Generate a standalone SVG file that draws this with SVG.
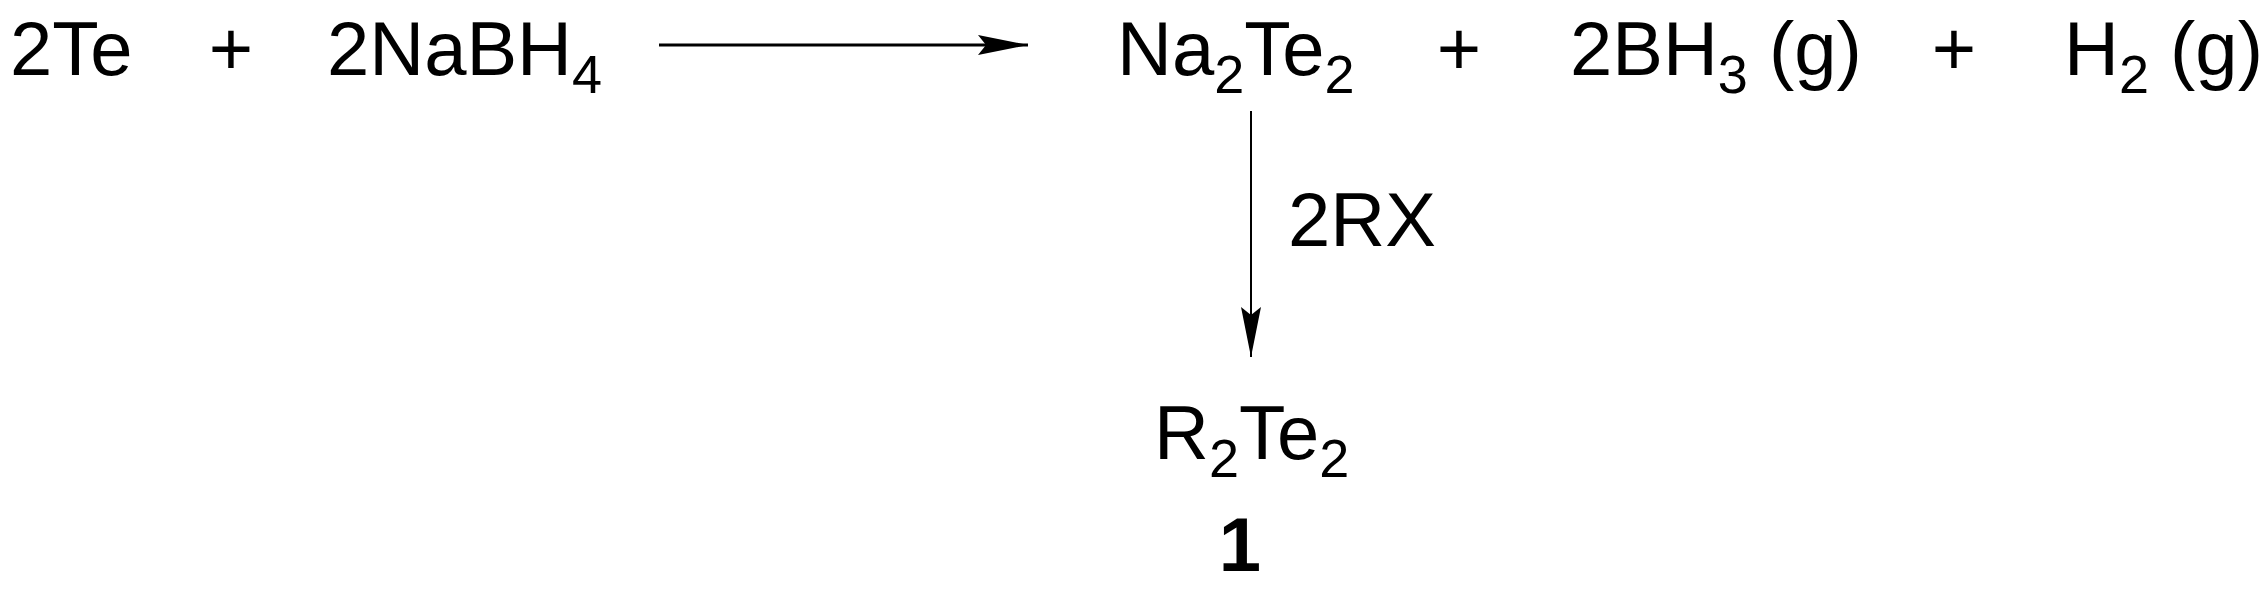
<svg xmlns="http://www.w3.org/2000/svg" width="2265" height="591" viewBox="0 0 2265 591">
<style>
text{font-family:"Liberation Sans",Arial,sans-serif;font-size:76px;fill:#000}
.s{font-size:54px}
.b{font-weight:bold}
</style>
<defs>
<marker id="ah2" viewBox="0 0 50 20" refX="50" refY="10" markerWidth="50" markerHeight="20" orient="auto" markerUnits="userSpaceOnUse">
<path d="M0,0 L50,10 L0,20 L8,10 Z" fill="#000"/>
</marker>
</defs>
<rect width="2265" height="591" fill="#fff"/>
<g id="reactants">
<text x="10" y="75">2Te</text>
<text x="231" y="75" text-anchor="middle">+</text>
<text x="327" y="75">2NaBH<tspan class="s" dy="18">4</tspan></text>
</g>
<g id="products">
<text x="1117" y="75">Na<tspan class="s" dy="18">2</tspan><tspan dy="-18">Te</tspan><tspan class="s" dy="18">2</tspan></text>
<text x="1459" y="75" text-anchor="middle">+</text>
<text x="1570" y="75">2BH<tspan class="s" dy="18">3</tspan><tspan dy="-18"> (g)</tspan></text>
<text x="1954" y="75" text-anchor="middle">+</text>
<text x="2064" y="75">H<tspan class="s" dy="18">2</tspan><tspan dy="-18"> (g)</tspan></text>
</g>
<g id="product1">
<text x="1154" y="459">R<tspan class="s" dy="18">2</tspan><tspan dy="-18">Te</tspan><tspan class="s" dy="18">2</tspan></text>
<text x="1240" y="571" text-anchor="middle" class="b">1</text>
</g>
<g id="connectors" stroke="#000" fill="none">
<line x1="659" y1="45" x2="1028" y2="45" stroke-width="3" marker-end="url(#ah2)"/>
<line x1="1251" y1="111" x2="1251" y2="357" stroke-width="2" marker-end="url(#ah2)"/>
<text x="1288" y="246" stroke="none">2RX</text>
</g>
</svg>
